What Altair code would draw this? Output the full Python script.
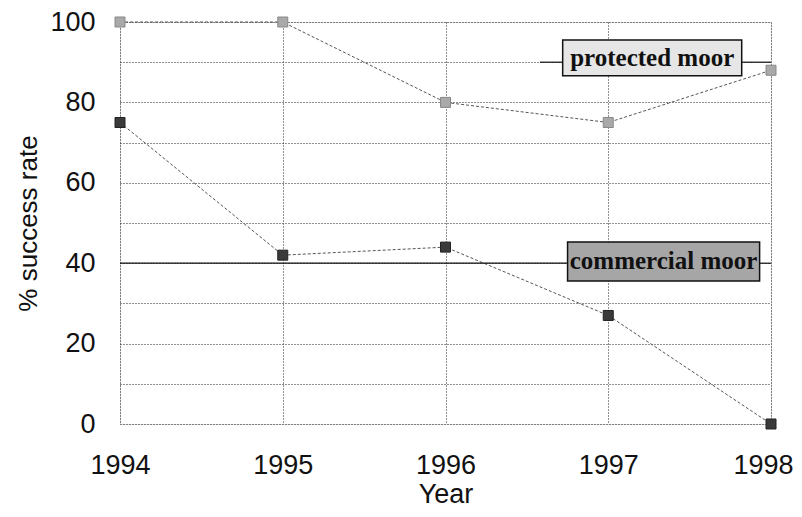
import altair as alt
import pandas as pd

years = [1994, 1995, 1996, 1997, 1998]
protected = [100, 100, 80, 75, 88]
commercial = [75, 42, 44, 27, 0]

# label boxes (data coordinates)
box_names = ["protected moor", "commercial moor"]
box_x = [1996.72, 1996.75]
box_x2 = [1997.82, 1997.93]
box_y = [95.5, 45.3]
box_y2 = [86.6, 35.6]
box_fill = ["#e6e6e6", "#a6a6a6"]

# solid leader segments
lead_x = [1994.0, 1997.93, 1996.58, 1997.82]
lead_x2 = [1996.75, 1998.0, 1996.72, 1998.0]
lead_y = [40, 40, 90, 90]

df = pd.DataFrame({
    "Year": years * 2,
    "Rate": protected + commercial,
    "Series": ["protected moor"] * 5 + ["commercial moor"] * 5,
})
boxes = pd.DataFrame({"name": box_names, "x": box_x, "x2": box_x2, "y": box_y, "y2": box_y2,
                      "fill": box_fill, "xm": [(a + b) / 2 for a, b in zip(box_x, box_x2)],
                      "ym": [(a + b) / 2 for a, b in zip(box_y, box_y2)]})
leads = pd.DataFrame({"x": lead_x, "x2": lead_x2, "y": lead_y})

xscale = alt.Scale(domain=[1994, 1998], nice=False, zero=False)
yscale = alt.Scale(domain=[0, 100], nice=False)

x_grid_vals = [1994 + 0.5 * i for i in range(9)]
y_grid_vals = list(range(0, 101, 10))

xaxis = alt.Axis(values=x_grid_vals, format="d",
                 labelExpr="datum.value % 1 == 0 ? datum.label : ''",
                 labelOffset={"condition": {"test": "datum.value == 1998", "value": -8}, "value": 0},
                 title="Year", grid=True, gridColor="#222", gridDash=[1, 2], gridWidth=1,
                 domain=False, ticks=False, labelFont="Liberation Sans", labelFontSize=27,
                 labelColor="#111", labelPadding=28, titleFont="Liberation Sans",
                 titleFontSize=27, titleFontWeight="normal", titleColor="#111", titlePadding=3,
                 labelFlush=False)
yaxis = alt.Axis(values=y_grid_vals,
                 labelExpr="datum.value % 20 == 0 ? datum.label : ''",
                 title="% success rate", grid=True, gridColor="#222", gridDash=[1, 2], gridWidth=1,
                 domain=False, ticks=False, labelFont="Liberation Sans", labelFontSize=27,
                 labelColor="#111", labelPadding=25, titleFont="Liberation Sans",
                 titleFontSize=26, titleFontWeight="normal", titleColor="#111", titlePadding=8)

base = alt.Chart(df)

lines = base.mark_line(strokeDash=[3, 2], strokeWidth=1, color="#555").encode(
    x=alt.X("Year:Q", scale=xscale, axis=xaxis),
    y=alt.Y("Rate:Q", scale=yscale, axis=yaxis),
    detail="Series:N",
)

points = base.mark_point(shape="square", filled=True, size=100, opacity=1, strokeWidth=1).encode(
    x=alt.X("Year:Q", scale=xscale),
    y=alt.Y("Rate:Q", scale=yscale),
    fill=alt.Fill("Series:N", scale=alt.Scale(domain=["protected moor", "commercial moor"],
                                              range=["#a9a9a9", "#3a3a3a"]), legend=None),
    stroke=alt.Stroke("Series:N", scale=alt.Scale(domain=["protected moor", "commercial moor"],
                                                  range=["#888888", "#222222"]), legend=None),
)

leaders = alt.Chart(leads).mark_rule(color="#111", strokeWidth=1.2).encode(
    x=alt.X("x:Q", scale=xscale), x2="x2:Q", y=alt.Y("y:Q", scale=yscale))

rects = alt.Chart(boxes).mark_rect(stroke="#111", strokeWidth=1.5).encode(
    x=alt.X("x:Q", scale=xscale), x2="x2:Q",
    y=alt.Y("y:Q", scale=yscale), y2="y2:Q",
    fill=alt.Fill("fill:N", scale=None),
)

texts = alt.Chart(boxes).mark_text(font="Liberation Serif", fontSize=25, fontWeight="bold",
                                   color="#111", baseline="middle", align="center").encode(
    x=alt.X("xm:Q", scale=xscale), y=alt.Y("ym:Q", scale=yscale), text="name:N")

chart = alt.layer(lines, leaders, points, rects, texts).properties(
    width=651, height=402,
    autosize=alt.AutoSizeParams(type="none"),
    padding={"left": 112, "top": 14, "right": 22, "bottom": 84},
).configure_view(stroke=None).configure(background="white")

chart.save("out.html", embed_options={"renderer": "svg", "actions": False})
